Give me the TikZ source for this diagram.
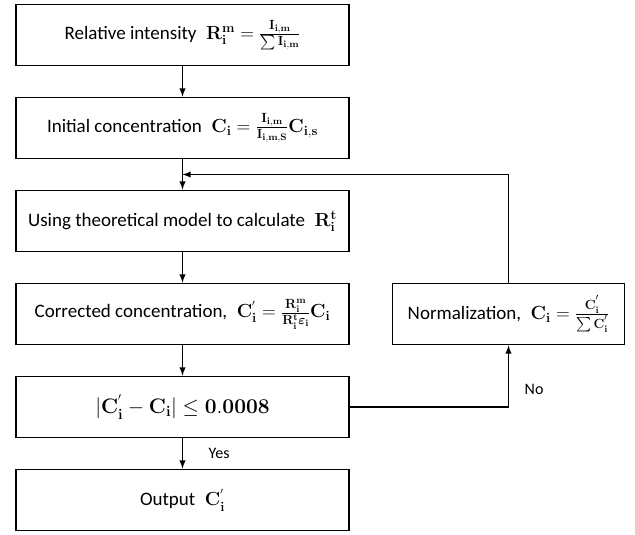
\documentclass[tikz,border=0pt]{standalone}
\usepackage{fix-cm}
\usepackage{amsmath}
\usepackage[no-math]{fontspec}
\setmainfont{Carlito}
\usetikzlibrary{calc}
\def\blocksep{93pt}

\begin{document}
\begin{tikzpicture}[->,>=latex,line width=1.8pt,node distance=\blocksep]
    \tikzstyle{block}=[rectangle,draw,minimum width=333pt,minimum height=61pt,inner sep=2pt,font=\fontsize{19}{22}\selectfont]
    \tikzstyle{norm block}=[block,minimum width=232pt]
    \tikzstyle{big block}=[block,font=\fontsize{21}{24}\selectfont]
    \tikzstyle{annot}=[font=\fontsize{16}{18}\selectfont]
    \useasboundingbox (0,0) rectangle (635pt,-535pt);

    % Main column of steps
    \node[block] (Rel) at (182.5pt,-35pt)
        {Relative intensity\; $\mathbf{R_i^m}=\frac{\mathbf{I_{i,m}}}{\sum\mathbf{I_{i,m}}}$};
    \node[block,below of=Rel] (Init)
        {Initial concentration\; $\mathbf{C_i}=\frac{\mathbf{I_{i,m}}}{\mathbf{I_{i,m,S}}}\mathbf{C_{i,s}}$};
    \node[block,below of=Init] (Model)
        {Using theoretical model to calculate\; $\mathbf{R_i^t}$};
    \node[block,below of=Model] (Corr)
        {Corrected concentration,\; $\mathbf{C_i^{'}}=\frac{\mathbf{R_i^m}}{\mathbf{R_i^t}\boldsymbol{\varepsilon}_{\mathbf{i}}}\mathbf{C_i}$};
    \node[big block,below of=Corr] (Check)
        {$|\mathbf{C_i^{'}}-\mathbf{C_i}|\le\mathbf{0.0008}$};
    \node[block,below of=Check] (Out)
        {Output\; $\mathbf{C_i^{'}}$};

    % Normalization step beside the check
    \node[norm block,right of=Corr,node distance=326pt] (Norm)
        {Normalization,\; $\mathbf{C_i}=\frac{\mathbf{C_i^{'}}}{\sum\mathbf{C_i^{'}}}$};

    % Connect the steps
    \draw (Rel) -- (Init);
    \draw (Init) -- (Model);
    \draw (Model) -- (Corr);
    \draw (Corr) -- (Check);
    \draw (Check) -- node[annot,right=22pt] {Yes} (Out);

    % Loop back when the change is too large
    \coordinate (Back) at ($(Init.south)!0.5!(Model.north)$);
    \draw (Check.east) -| node[annot,pos=0.64,right=12pt] {No} (Norm.south);
    \draw (Norm.north) |- (Back);
\end{tikzpicture}
\end{document}
